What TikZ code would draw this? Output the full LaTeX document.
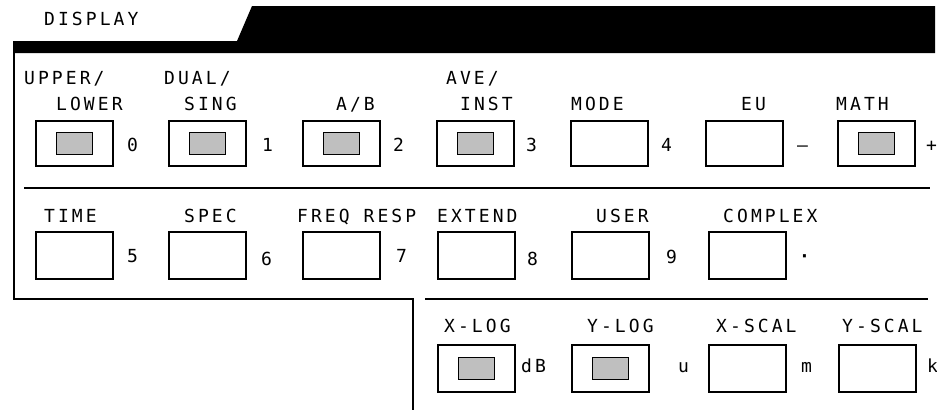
\documentclass[tikz,border=0pt]{standalone}
\usepackage{fontspec}
\newfontfamily\plotfont[LetterSpace=17]{DejaVu Sans Mono}
\begin{document}
\begin{tikzpicture}[x=1pt,y=-1pt,
  keybox/.style={draw, line width=1.8pt, minimum width=77pt, minimum height=45pt, inner sep=0pt, anchor=north west},
  tallkey/.style={keybox, minimum height=47pt},
  lamp/.style={draw, line width=1.7pt, fill=gray!50, minimum width=36pt, minimum height=22pt, inner sep=0pt},
  lbl/.style={font=\plotfont\fontsize{18}{18}\selectfont, inner sep=0pt, anchor=base west},
  rule/.style={line width=1.6pt}]
\useasboundingbox (0,0) rectangle (937,410);
% tab
\node[lbl] (title) at (44,25) {DISPLAY};
\fill (13,41) -- (237,41) -- (252,6) -- (935,6) -- (935,53) -- (13,53) -- cycle;
% frame and rules
\draw[rule] (14,53) -- (14,299) -- (413,299) -- (413,410);
\draw[rule] (24,188) -- (930,188);
\draw[rule] (425,299) -- (928,299);
% row 1 labels
\node[lbl] (t1a) at (24,84) {UPPER/};
\node[lbl] (t1b) at (56,110) {LOWER};
\node[lbl] (t2a) at (164,84) {DUAL/};
\node[lbl] (t2b) at (184,110) {SING};
\node[lbl] (t3b) at (336,110) {A/B};
\node[lbl] (t4a) at (446,84) {AVE/};
\node[lbl] (t4b) at (460,110) {INST};
\node[lbl] (t5b) at (571,110) {MODE};
\node[lbl] (t6b) at (741,110) {EU};
\node[lbl] (t7b) at (836,110) {MATH};
% row 1 keys
\node[keybox] (k0) at (35,120) {};
\node[keybox] (k1) at (168,120) {};
\node[keybox] (k2) at (302,120) {};
\node[keybox] (k3) at (436,120) {};
\node[keybox] (k4) at (570,120) {};
\node[keybox] (k5) at (705,120) {};
\node[keybox] (k6) at (837,120) {};
\node[lamp] (l0) at (k0.center) {};
\node[lamp] (l1) at (k1.center) {};
\node[lamp] (l2) at (k2.center) {};
\node[lamp] (l3) at (k3.center) {};
\node[lamp] (l6) at (k6.center) {};
\node[lbl] (n0) at (127,151) {0};
\node[lbl] (n1) at (262,151) {1};
\node[lbl] (n2) at (393,151) {2};
\node[lbl] (n3) at (526,151) {3};
\node[lbl] (n4) at (661,151) {4};
\node[lbl] (n5) at (797,151) {–};
\node[lbl] (n6) at (926,151) {+};
% row 2 labels
\node[lbl] (r2a) at (44,222) {TIME};
\node[lbl] (r2b) at (184,222) {SPEC};
\node[lbl] (r2c) at (297,222) {FREQ RESP};
\node[lbl] (r2d) at (437,222) {EXTEND};
\node[lbl] (r2e) at (596,222) {USER};
\node[lbl] (r2f) at (723,222) {COMPLEX};
% row 2 keys
\node[tallkey] (m0) at (35,231) {};
\node[tallkey] (m1) at (168,231) {};
\node[tallkey] (m2) at (302,231) {};
\node[tallkey] (m3) at (437,231) {};
\node[tallkey] (m4) at (571,231) {};
\node[tallkey] (m5) at (708,231) {};
\node[lbl] (p0) at (127,262) {5};
\node[lbl] (p1) at (261,265) {6};
\node[lbl] (p2) at (396,262) {7};
\node[lbl] (p3) at (527,265) {8};
\node[lbl] (p4) at (666,263) {9};
\node[lbl] (p5) at (799,262) {\bfseries ·};
% row 3 labels
\node[lbl] (s1) at (444,332) {X-LOG};
\node[lbl] (s2) at (587,332) {Y-LOG};
\node[lbl] (s3) at (716,332) {X-SCAL};
\node[lbl] (s4) at (842,332) {Y-SCAL};
% row 3 keys
\node[tallkey] (q0) at (437,344) {};
\node[tallkey] (q1) at (571,344) {};
\node[tallkey] (q2) at (708,344) {};
\node[tallkey] (q3) at (838,344) {};
\node[lamp] (lq0) at (q0.center) {};
\node[lamp] (lq1) at (q1.center) {};
\node[lbl] (u0) at (521,372) {dB};
\node[lbl] (u1) at (678,372) {u};
\node[lbl] (u2) at (801,372) {m};
\node[lbl] (u3) at (927,372) {k};
\end{tikzpicture}
\end{document}
